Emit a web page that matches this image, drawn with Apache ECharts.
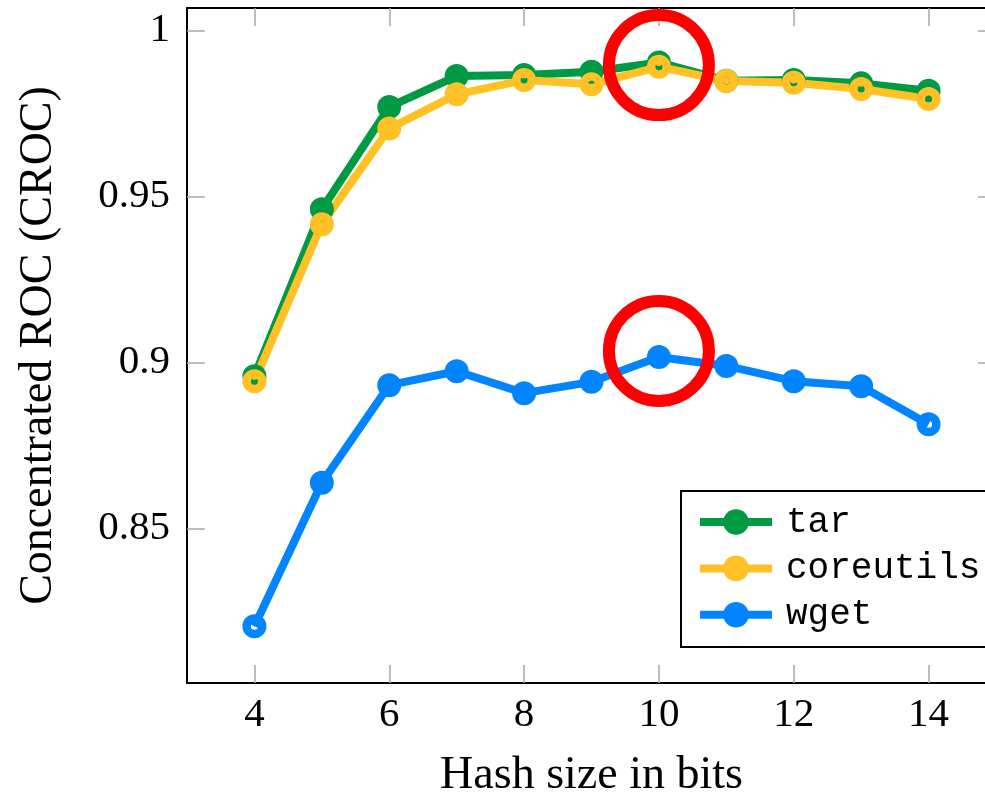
<!DOCTYPE html>
<html>
<head>
<meta charset="utf-8">
<script src="https://cdn.jsdelivr.net/npm/echarts@6/dist/echarts.min.js"></script>
<style>
html,body{margin:0;padding:0;background:#fff;}
#chart{width:985px;height:793px;}
</style>
</head>
<body>
<div id="chart"></div>
<script>
// ---- data ----
const hashBits = [4, 5, 6, 7, 8, 9, 10, 11, 12, 13, 14];
const tarCroc = [0.8959, 0.9462, 0.9770, 0.9863, 0.9866, 0.9876, 0.9904, 0.9849, 0.9851, 0.9841, 0.9819];
const coreutilsCroc = [0.8944, 0.9417, 0.9705, 0.9808, 0.9851, 0.9838, 0.9891, 0.9848, 0.9843, 0.9824, 0.9794];
const wgetCroc = [0.8206, 0.8638, 0.8932, 0.8974, 0.8908, 0.8942, 0.9017, 0.8990, 0.8944, 0.8929, 0.8814];
const xTicks = [4, 6, 8, 10, 12, 14];
const yTicks = [0.85, 0.9, 0.95, 1];
const highlightX = [10, 10];
const highlightY = [0.9896, 0.9035];

const seriesNames = ['tar', 'coreutils', 'wget'];
const seriesValues = [tarCroc, coreutilsCroc, wgetCroc];
const seriesColors = ['#009944', '#FFC125', '#0084FF'];

const ringPath = 'path://M12,0 A12,12 0 1,1 12,24 A12,12 0 1,1 12,0 Z M12,8.5 A3.5,3.5 0 1,0 12,15.5 A3.5,3.5 0 1,0 12,8.5 Z';

const serif = '"Liberation Serif", "Times New Roman", serif';
const mono = '"Liberation Mono", "DejaVu Sans Mono", monospace';

const pairs = vals => hashBits.map((x, i) => [x, vals[i]]);

const series = [];
seriesNames.forEach((name, k) => {
  series.push({
    name: name, type: 'line', z: 2,
    data: pairs(seriesValues[k]),
    showSymbol: false, symbol: 'circle', symbolSize: 24,
    lineStyle: {color: seriesColors[k], width: 8},
    itemStyle: {color: seriesColors[k]},
    emphasis: {disabled: true}, silent: true, animation: false
  });
});
seriesNames.forEach((name, k) => {
  series.push({
    name: name, type: 'scatter', z: 3,
    data: pairs(seriesValues[k]),
    symbol: ringPath, symbolSize: 24,
    itemStyle: {color: seriesColors[k], opacity: 1},
    emphasis: {disabled: true}, silent: true, animation: false
  });
});
series.push({
  type: 'scatter', z: 5,
  data: highlightX.map((x, i) => [x, highlightY[i]]),
  symbol: 'circle', symbolSize: 100,
  itemStyle: {color: 'rgba(0,0,0,0)', borderColor: '#FF0000', borderWidth: 12, opacity: 1},
  emphasis: {disabled: true}, silent: true, animation: false
});

const tickStyle = {show: true, inside: true, length: 18, lineStyle: {color: '#a8a8a8', width: 1.5}};
const axisLineStyle = {show: true, onZero: false, lineStyle: {color: '#000', width: 2}};

const chart = echarts.init(document.getElementById('chart'), null, {renderer: 'canvas'});
chart.setOption({
  animation: false,
  backgroundColor: '#fff',
  grid: {left: 187, top: 8, width: 809, height: 675, containLabel: false, outerBoundsMode: 'none'},
  xAxis: [{
    type: 'value', min: 3, max: 15, position: 'bottom',
    name: 'Hash size in bits', nameLocation: 'middle', nameGap: 70,
    nameTextStyle: {fontFamily: serif, fontSize: 46, color: '#000'},
    axisLine: axisLineStyle,
    axisTick: Object.assign({customValues: xTicks}, tickStyle),
    axisLabel: {customValues: xTicks, margin: 12, fontFamily: serif, fontSize: 41, color: '#000'},
    splitLine: {show: false}
  }, {
    type: 'value', min: 3, max: 15, position: 'top',
    axisLine: axisLineStyle,
    axisTick: Object.assign({customValues: xTicks}, tickStyle),
    axisLabel: {show: false},
    splitLine: {show: false}
  }],
  yAxis: [{
    type: 'value', min: 0.8035, max: 1.0068, position: 'left',
    name: 'Concentrated ROC (CROC)', nameLocation: 'middle', nameGap: 125,
    nameTextStyle: {fontFamily: serif, fontSize: 46, color: '#000'},
    axisLine: axisLineStyle,
    axisTick: Object.assign({customValues: yTicks}, tickStyle),
    axisLabel: {customValues: yTicks, margin: 17, fontFamily: serif, fontSize: 41, color: '#000'},
    splitLine: {show: false}
  }, {
    type: 'value', min: 0.8035, max: 1.0068, position: 'right',
    axisLine: axisLineStyle,
    axisTick: Object.assign({customValues: yTicks}, tickStyle),
    axisLabel: {show: false},
    splitLine: {show: false}
  }],
  graphic: [{
    type: 'rect', z: 4, silent: true,
    shape: {x: 681, y: 491, width: 340, height: 156},
    style: {fill: '#fff', stroke: '#000', lineWidth: 2}
  }],
  legend: {
    data: seriesNames, z: 6,
    orient: 'vertical', left: 696, top: 504,
    itemWidth: 72, itemHeight: 32, itemGap: 10.4,
    padding: 0,
    borderWidth: 0, backgroundColor: 'transparent',
    lineStyle: {width: 8},
    textStyle: {fontFamily: mono, fontSize: 36, lineHeight: 27, color: '#000', padding: [0, 0, 0, 9]},
    selectedMode: false
  },
  series: series
});
</script>
</body>
</html>
